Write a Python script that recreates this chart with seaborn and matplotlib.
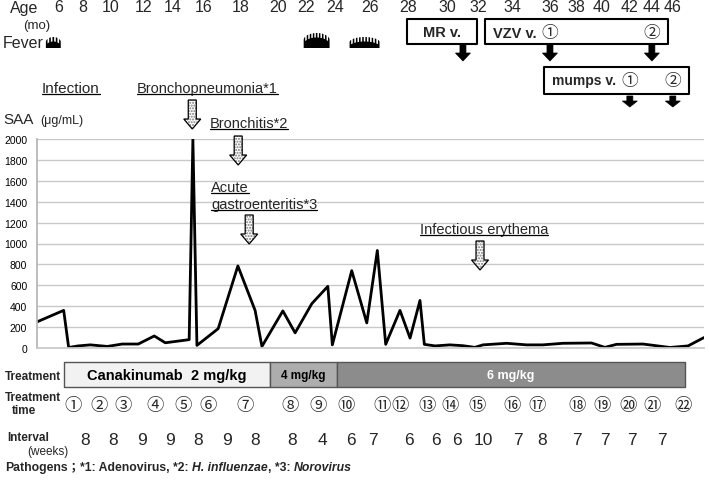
import numpy as np
import matplotlib
matplotlib.use("Agg")
import matplotlib.pyplot as plt
import seaborn as sns
from matplotlib.patches import Polygon
from matplotlib.lines import Line2D

# =========================================================
# DATA  (x = age in months)
# =========================================================

SAA_AGE = [4.69, 6.41, 6.73, 7.35, 8.13, 9.22, 10.19, 11.22, 12.25, 12.96,
           14.50, 14.74, 15.00, 16.37, 17.64, 18.75, 19.19, 20.54, 21.33, 22.41,
           23.44, 23.73, 24.98, 25.95, 26.63, 27.17, 28.09, 28.74, 29.38, 29.66,
           30.35, 31.31, 32.15, 32.92, 33.44, 34.97, 36.25, 37.30, 38.59, 40.44,
           41.30, 42.05, 43.76, 45.49, 46.66, 47.69]
SAA_VALUE = [250, 360, 5, 20, 30, 15, 38, 38, 115, 50,
             80, 2000, 25, 185, 785, 360, 15, 355, 145, 425,
             590, 30, 740, 240, 933, 35, 360, 95, 455, 35,
             20, 30, 22, 6, 30, 45, 30, 30, 45, 48,
             6, 35, 38, 5, 20, 100]

AGE_LABELS = [6, 8, 10, 12, 14, 16, 18, 20, 22, 24, 26, 28, 30, 32, 34, 36, 38, 40, 42, 44, 46]
AGE_LABEL_POS = [6.06, 7.67, 9.41, 11.54, 13.41, 15.40, 17.79, 20.24, 22.04, 23.91, 26.16,
                 28.61, 31.12, 33.12, 35.31, 37.76, 39.49, 41.10, 42.91, 44.33, 45.68]

FEVER_START = [5.23, 21.85, 24.81]
FEVER_END = [6.19, 23.52, 26.74]

INFECTIONS = ["Bronchopneumonia*1", "Bronchitis*2", "Acute\ngastroenteritis*3", "Infectious erythema"]
INFECTION_AGE = [14.70, 17.66, 18.37, 33.25]

VACCINES = ["MR v.", "VZV v.", "mumps v."]
VACCINE_START = [28.54, 33.57, 37.37]
VACCINE_END = [33.05, 45.36, 46.71]
VACCINE_DOSES = [[32.15], [37.76, 44.33], [42.91, 45.68]]

TREATMENTS = ["Canakinumab  2 mg/kg", "4 mg/kg", "6 mg/kg"]
TREAT_START = [6.45, 19.72, 24.04]
TREAT_END = [19.72, 24.04, 46.45]

TREAT_TIME_AGE = [7.03, 8.71, 10.25, 12.31, 14.12, 15.73, 18.11, 21.01, 22.81, 24.62, 26.93,
                  28.09, 29.83, 31.31, 33.05, 35.31, 36.92, 39.49, 41.10, 42.78, 44.33, 46.32]

INTERVAL_WEEKS = [8, 8, 9, 9, 8, 9, 8, 8, 4, 6, 7, 6, 6, 6, 10, 7, 8, 7, 7, 7, 7]
INTERVAL_POS = [7.80, 9.61, 11.48, 13.28, 15.08, 16.95, 18.75, 21.14, 23.07, 24.94, 26.35,
                28.67, 30.41, 31.76, 33.44, 35.70, 37.24, 39.49, 41.30, 43.04, 44.97]

CIRCLED = [chr(0x2460 + i) for i in range(20)] + [chr(0x3251), chr(0x3252)]

# =========================================================
# FIGURE SETUP
# =========================================================

sns.set_theme(style="white")
plt.rcParams["font.family"] = ["Liberation Sans", "DejaVu Sans"]

W, H = 709, 481
X0, X1 = 4.69, 47.69
AX_L, AX_R = 37, 704
PXM = (AX_R - AX_L) / (X1 - X0)

fig = plt.figure(figsize=(W / 100, H / 100), dpi=100)
CJK = ["Noto Sans CJK JP", "DejaVu Sans"]


def mx(px):
    return X0 + (px - AX_L) / PXM


def ftxt(px, py, s, **kw):
    kw.setdefault("va", "center")
    kw.setdefault("ha", "left")
    return fig.text(px / W, 1 - py / H, s, **kw)


# =========================================================
# SAA PLOT
# =========================================================

ax = fig.add_axes([AX_L / W, (H - 349) / H, (AX_R - AX_L) / W, 209 / H])
sns.lineplot(x=SAA_AGE, y=SAA_VALUE, ax=ax, color="black", linewidth=2, sort=False)
ax.set_xlim(X0, X1)
ax.set_ylim(0, 2000)
ax.set_yticks(range(0, 2001, 200))
ax.set_xticks([])
ax.grid(axis="y", color="#c8c8c8", linewidth=1)
ax.tick_params(axis="y", length=0, pad=7, labelsize=7.5, labelcolor="black")
for side in ["top", "right"]:
    ax.spines[side].set_visible(False)
ax.spines["left"].set_color("#b5b5b5")
ax.spines["bottom"].set_color("#c8c8c8")

# overlay axes sharing the age scale, y in pixels from top
ov = fig.add_axes([AX_L / W, 0, (AX_R - AX_L) / W, 1])
ov.set_xlim(X0, X1)
ov.set_ylim(H, 0)
ov.axis("off")
ov.patch.set_alpha(0)


def down_arrow(x, y0, y1, shaft_w, head_w, head_l, **kw):
    sw = shaft_w / 2 / PXM
    hw = head_w / 2 / PXM
    yh = y1 - head_l
    verts = [(x - sw, y0), (x + sw, y0), (x + sw, yh), (x + hw, yh),
             (x, y1), (x - hw, yh), (x - sw, yh)]
    ov.add_patch(Polygon(verts, closed=True, clip_on=False, **kw))


# =========================================================
# AGE ROW / FEVER
# =========================================================

ftxt(10, 8, "Age", fontsize=11.5)
ftxt(23, 26, "(mo)", fontsize=9.5)
ftxt(3, 43, "Fever", fontsize=11.5)
for pos, lab in zip(AGE_LABEL_POS, AGE_LABELS):
    ov.text(pos, 8, str(lab), fontsize=11.5, ha="center", va="center")

# fever glyphs: dome with comb-like spikes on top
for a, b, h in zip(FEVER_START, FEVER_END, [11, 15, 11]):
    xs = np.linspace(a, b, 600)
    t = (xs - a) / (b - a)
    env = h * (0.5 + 0.5 * np.sin(np.pi * t) ** 0.4)
    n_teeth = max(int((b - a) * PXM / 1.5), 5)
    env = np.where(np.floor(t * n_teeth) % 2 == 0, env, env - 4.5)
    ov.fill_between(xs, 48.5, 48.5 - env, color="black", linewidth=0)

# =========================================================
# VACCINES
# =========================================================

box_rows = [(20, 25), (20, 25), (68, 27)]
for i, name in enumerate(VACCINES):
    y, hgt = box_rows[i]
    ov.broken_barh([(VACCINE_START[i], VACCINE_END[i] - VACCINE_START[i])], (y, hgt),
                   facecolors="white", edgecolors="black", linewidth=1.5)
    if len(VACCINE_DOSES[i]) == 1:
        ov.text((VACCINE_START[i] + VACCINE_END[i]) / 2, y + 13, name,
                fontsize=10.5, fontweight="bold", ha="center", va="center")
    else:
        ov.text(VACCINE_START[i] + 8.5 / PXM, y + 13.5, name,
                fontsize=10 if i == 2 else 10.5, fontweight="bold", ha="left", va="center")
        for k, d in enumerate(VACCINE_DOSES[i]):
            ov.text(d, y + 13.5, CIRCLED[k], fontsize=12, family=CJK, ha="center", va="center")
    for d in VACCINE_DOSES[i]:
        if i < 2:
            down_arrow(d, 46, 62, 6, 15, 8, facecolor="black", edgecolor="black", lw=0.5)
        else:
            down_arrow(d, 97, 108, 6, 15, 6, facecolor="black", edgecolor="black", lw=0.5)

# =========================================================
# INFECTIONS
# =========================================================

under = [ftxt(42, 89, "Infection", fontsize=11)]
ftxt(3, 120, "SAA", fontsize=11)
ftxt(40, 121, "(μg/mL)", fontsize=9)

text_layout = [(137, [89]), (210, [124]), (211, [188, 205]), (420, [230])]
arrow_top = [101, 137, 216, 242]
for i, name in enumerate(INFECTIONS):
    left, ys = text_layout[i]
    for line, yy in zip(name.split("\n"), ys):
        under.append(ov.text(mx(left), yy, line, fontsize=10.5, ha="left", va="center"))
    x = INFECTION_AGE[i]
    down_arrow(x, arrow_top[i], arrow_top[i] + 29, 8, 17, 10,
               facecolor="white", edgecolor="#777777", hatch="......", lw=0)
    down_arrow(x, arrow_top[i], arrow_top[i] + 29, 8, 17, 10,
               facecolor="none", edgecolor="black", lw=0.9)

# =========================================================
# TREATMENT ROWS
# =========================================================

ftxt(5, 377, "Treatment", fontsize=8.5, fontweight="bold")
ftxt(5, 398, "Treatment", fontsize=8.5, fontweight="bold")
ftxt(12, 411, "time", fontsize=8.5, fontweight="bold")
ftxt(7, 438, "Interval", fontsize=8.5, fontweight="bold")
ftxt(27, 452, "(weeks)", fontsize=8.5)

bar_colors = ["#f2f2f2", "#adadad", "#8c8c8c"]
text_colors = ["black", "black", "white"]
text_sizes = [10.5, 8.5, 9]
for i, lab in enumerate(TREATMENTS):
    ov.broken_barh([(TREAT_START[i], TREAT_END[i] - TREAT_START[i])], (363, 25),
                   facecolors=bar_colors[i], edgecolors="#555555", linewidth=1)
    ov.text((TREAT_START[i] + TREAT_END[i]) / 2, 376, lab, fontsize=text_sizes[i],
            fontweight="bold", color=text_colors[i], ha="center", va="center")

for pos, c in zip(TREAT_TIME_AGE, CIRCLED):
    ov.text(pos, 406, c, fontsize=12.5, family=CJK, ha="center", va="center")

for pos, w in zip(INTERVAL_POS, INTERVAL_WEEKS):
    ov.text(pos, 441, str(w), fontsize=12.5, ha="center", va="center")

# pathogens footnote, pieces chained one after another
pieces = [("Pathogens；", "normal"), ("*1: Adenovirus, ", "normal"), ("*2: ", "normal"),
          ("H. influenzae", "italic"), (", *3: ", "normal"), ("Norovirus", "italic")]
prev = ftxt(5, 468, pieces[0][0], fontsize=8.8, fontweight="bold",
            family=["Liberation Sans", "Noto Sans CJK JP"])
for s, style in pieces[1:]:
    prev = ov.annotate(s, xy=(1, 0), xycoords=prev, ha="left", va="bottom", fontsize=8.8,
                       fontweight="bold", fontstyle=style, annotation_clip=False)

# underline texts
fig.canvas.draw()
r = fig.canvas.get_renderer()
inv = fig.transFigure.inverted()
for t in under:
    bb = t.get_window_extent(r)
    (x0, y0), (x1_, _) = inv.transform([(bb.x0, bb.y0 + 1), (bb.x1, bb.y0 + 1)])
    fig.add_artist(Line2D([x0, x1_], [y0, y0], color="black", lw=0.9))

fig.savefig("out.png", dpi=100)
